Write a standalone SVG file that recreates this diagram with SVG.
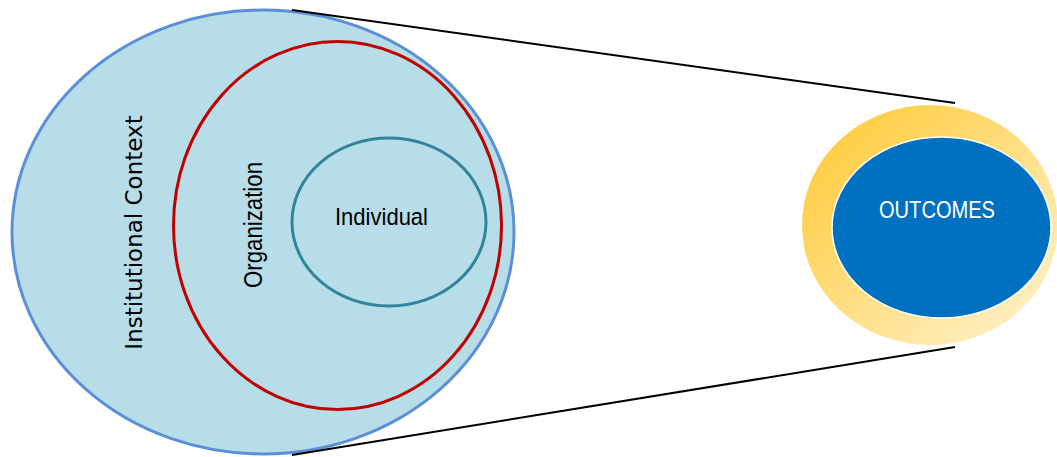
<svg xmlns="http://www.w3.org/2000/svg" width="1057" height="457" viewBox="0 0 1057 457">
<style>
.narrow{font-family:"Liberation Sans",Arial,sans-serif;}
.conn{stroke:#000;stroke-width:2;fill:none;}
</style>
<defs>
<linearGradient id="gold" x1="0" y1="0" x2="1" y2="1">
<stop offset="0" stop-color="#FFC82E"/>
<stop offset="1" stop-color="#FFF5D6"/>
</linearGradient>
</defs>
<rect width="1057" height="457" fill="#fff"/>
<g id="institutional">
<ellipse cx="263" cy="232" rx="251" ry="222" fill="#B7DDE8" stroke="#5B8FD6" stroke-width="3"/>
<text transform="translate(142,232.5) rotate(-90)" text-anchor="middle" font-family="DejaVu Sans,sans-serif" font-size="23" fill="#000">Institutional Context</text>
</g>
<g id="organization">
<ellipse cx="337.5" cy="225.5" rx="164" ry="184" fill="none" stroke="#C00000" stroke-width="3"/>
<text class="narrow" transform="translate(262,225) rotate(-90)" text-anchor="middle" font-size="26" textLength="126" lengthAdjust="spacingAndGlyphs" fill="#000">Organization</text>
</g>
<g id="individual">
<ellipse cx="389" cy="222" rx="97" ry="84" fill="none" stroke="#31849B" stroke-width="3"/>
<text class="narrow" x="381.5" y="225" text-anchor="middle" font-size="24.5" textLength="93" lengthAdjust="spacingAndGlyphs" fill="#000">Individual</text>
</g>
<g id="outcomes">
<ellipse cx="930" cy="225" rx="128" ry="120" fill="url(#gold)"/>
<ellipse cx="941.5" cy="227.5" rx="109.5" ry="90.5" fill="#0070C0" stroke="#fff" stroke-width="1.5"/>
<text class="narrow" x="937" y="218" text-anchor="middle" font-size="23" textLength="116" lengthAdjust="spacingAndGlyphs" fill="#fff">OUTCOMES</text>
</g>
<g id="connectors">
<line class="conn" x1="292" y1="10" x2="955" y2="103"/>
<line class="conn" x1="292" y1="455" x2="955" y2="347"/>
</g>
</svg>
